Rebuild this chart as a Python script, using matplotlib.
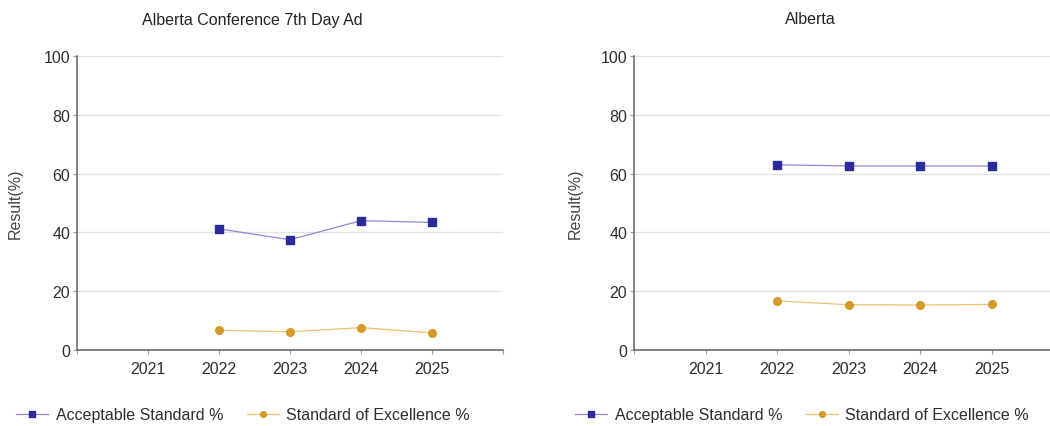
import matplotlib
matplotlib.use('Agg')
import matplotlib.pyplot as plt

plt.rcParams['font.family'] = ['Liberation Sans', 'DejaVu Sans']

# data
years = [2022, 2023, 2024, 2025]
tick_years = [2021, 2022, 2023, 2024, 2025]
titles = ['Alberta Conference 7th Day Ad', 'Alberta']
acceptable = [[41.2, 37.5, 44.0, 43.4],
              [63.0, 62.6, 62.6, 62.6]]
excellence = [[6.7, 6.2, 7.6, 5.8],
              [16.7, 15.4, 15.3, 15.5]]
series_names = ['Acceptable Standard %', 'Standard of Excellence %']

W, H = 1050, 427
fig = plt.figure(figsize=(W / 100, H / 100), dpi=100)

# axes boxes in pixels: left, right, top, bottom
boxes = [(77, 503, 57, 351), (634, 1063, 57, 351)]
title_x = [252, 810]
ylabel_x = [15, 575]
legend_x = [10, 569]
fs = 11.5

for i in range(2):
    l, r, t, b = boxes[i]
    ax = fig.add_axes([l / W, 1 - b / H, (r - l) / W, (b - t) / H])
    ax.plot(years, acceptable[i], color='#8a8ad8', lw=0.9, marker='s', ms=6,
            mfc='#2b2b9b', mec='#2b2b9b', label=series_names[0])
    ax.plot(years, excellence[i], color='#ebc46e', lw=0.9, marker='o', ms=5.5,
            mfc='#d49a2a', mec='#d49a2a', label=series_names[1])
    ax.set_xlim(2020, 2026)
    ax.set_ylim(0, 100)
    ax.set_xticks([2020, 2021, 2022, 2023, 2024, 2025, 2026])
    ax.set_xticklabels([''] + [str(y) for y in tick_years] + [''])
    ax.set_yticks([0, 20, 40, 60, 80, 100])
    ax.grid(axis='y', color='#e2e2e2', lw=1)
    ax.set_axisbelow(True)
    for s in ['top', 'right']:
        ax.spines[s].set_visible(False)
    for s in ['left', 'bottom']:
        ax.spines[s].set_color('#6e6e6e')
        ax.spines[s].set_linewidth(1.2)
    ax.tick_params(axis='both', colors='#9a9a9a', labelcolor='#2e2e2e',
                   labelsize=fs, length=3, width=0.8)
    ax.tick_params(axis='x', pad=5)
    ax.tick_params(axis='y', pad=2)
    fig.text(title_x[i] / W, 1 - 20 / H, titles[i], ha='center', va='center',
             fontsize=fs, color='#222222')
    fig.text(ylabel_x[i] / W, 1 - 204 / H, 'Result(%)', rotation=90,
             ha='center', va='center', fontsize=fs, color='#444444')
    handles, labels = ax.get_legend_handles_labels()
    fig.legend(handles, labels, loc='center left',
               bbox_to_anchor=(legend_x[i] / W, 1 - 416 / H), ncol=2,
               frameon=False, fontsize=fs, handlelength=2.0,
               columnspacing=1.5, handletextpad=0.45, markerscale=0.75,
               labelcolor='#2e2e2e', borderaxespad=0)

fig.savefig('out.png', dpi=100, facecolor='white')
